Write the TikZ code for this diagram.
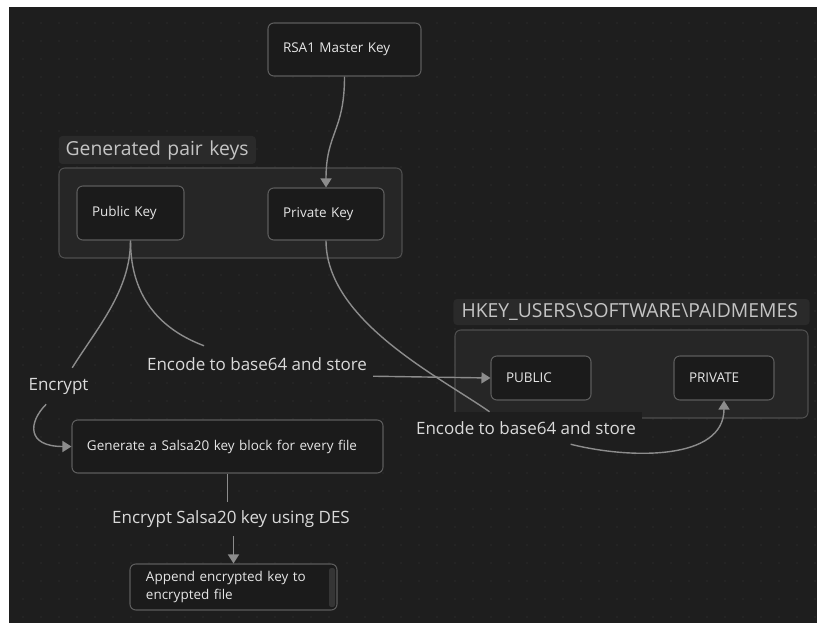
\documentclass[tikz,border=0pt]{standalone}
\usepackage{fontspec}
\setmainfont{Open Sans}
\usetikzlibrary{arrows.meta}
\definecolor{canvas}{HTML}{1E1E1E}
\definecolor{dotcol}{HTML}{2C2C2C}
\definecolor{grpfill}{HTML}{262626}
\definecolor{grpline}{HTML}{4E4E4E}
\definecolor{glabfill}{HTML}{2A2A2A}
\definecolor{glabtext}{HTML}{C4C4C4}
\definecolor{boxfill}{HTML}{1B1B1B}
\definecolor{boxline}{HTML}{5C5C5C}
\definecolor{boxtext}{HTML}{E6E6E6}
\definecolor{labtext}{HTML}{DADADA}
\definecolor{edgecol}{HTML}{8C8C8C}
\definecolor{barcol}{HTML}{353535}
\tikzset{
  wh/.style 2 args={minimum width=#1*0.03cm,minimum height=#2*0.03cm},
  grp/.style={draw=grpline,fill=grpfill,line width=0.9pt,rounded corners=5pt,inner sep=0pt},
  glabel/.style={fill=glabfill,rounded corners=3pt,text=glabtext,align=left,
    inner xsep=0.2cm,inner ysep=0pt,font=\fontsize{16.5}{20}\selectfont},
  keybox/.style={draw=boxline,fill=boxfill,line width=0.9pt,rounded corners=5pt,text=boxtext,
    align=left,inner xsep=0.45cm,inner ysep=0pt,font=\fontsize{11.5}{15}\selectfont},
  elabel/.style={fill=canvas,text=labtext,inner sep=0pt,font=\fontsize{14.5}{17}\selectfont},
  link/.style={draw=edgecol,line width=1.2pt},
  tip/.style={-{Triangle[length=0.27cm,width=0.33cm]}}
}
\begin{document}
\begin{tikzpicture}[x=0.03cm,y=-0.03cm]
\fill[white] (0,0) rectangle (817,623);
\useasboundingbox (0,0) rectangle (817,623);
\fill[canvas] (9,7) rectangle (817,623);
\foreach \i in {0,...,44}
  \foreach \j in {0,...,33}
    \fill[dotcol] (23+18*\i,23+18*\j) circle (0.9);

% groups
\node[grp,wh={343}{90}] (pairgrp) at (230.5,213) {};
\node[glabel,wh={197}{28},text width=5.5cm] (pairlab) at (157.3,150) {Generated pair keys};
\node[grp,wh={353}{88}] (reggrp) at (631.5,374) {};
\node[glabel,wh={353}{26},text width=10.2cm,inner xsep=0.24cm] (reglab) at (631.5,312) {HKEY\_USERS\textbackslash SOFTWARE\textbackslash PAIDMEMES};

% boxes
\node[keybox,wh={153}{53},text width=3.69cm] (rsa) at (344.5,49.5) {RSA1 Master Key};
\node[keybox,wh={107}{54},text width=2.31cm] (pub) at (130.5,213) {Public Key};
\node[keybox,wh={116}{52},text width=2.58cm] (priv) at (326,214) {Private Key};
\node[keybox,wh={100}{44},text width=2.1cm] (regpub) at (541,378) {PUBLIC};
\node[keybox,wh={100}{44},text width=2.1cm] (regpriv) at (724,378) {PRIVATE};
\node[keybox,wh={311}{53},text width=8.43cm] (gen) at (227.5,446.5) {Generate a Salsa20 key block for every file};
\node[keybox,wh={207}{46},text width=5.25cm,inner xsep=0.48cm] (app) at (233.5,587) {Append encrypted key to\\encrypted file};
\fill[barcol,rounded corners=2pt] (329,568) rectangle (335,607);

% edge labels
\node[elabel,wh={232}{36}] (enc1) at (257,364) {Encode to base64 and store};
\node[elabel,wh={232}{32}] (enc2) at (526,428) {Encode to base64 and store};
\node[elabel,wh={73}{36}] (crypt) at (58.5,386) {Encrypt};
\node[elabel,wh={252}{34}] (salsa) at (231,519) {Encrypt Salsa20 key using DES};

% connectors
\draw[link,tip] (rsa.south) .. controls +(0,55) and +(0,-55) .. (priv.north);
\draw[link] (pub.south) .. controls +(0,50) and +(25,-40) .. (crypt.53);
\draw[link,tip] (crypt.236) .. controls +(-18,18) and +(-45,0) .. (gen.west);
\draw[link] (pub.south) .. controls +(0,60) and +(-40,-15) .. (enc1.161);
\draw[link,tip] (enc1.354) -- (regpub.west);
\draw[link] (priv.south) .. controls +(0,80) and +(-50,-35) .. (enc2.156.6);
\draw[link,tip] (enc2.340.8) .. controls +(60,15) and +(0,60) .. (regpriv.south);
\draw[link] (gen.south) -- (gen.south |- salsa.north);
\draw[link,tip] (app.north |- salsa.south) -- (app.north);
\end{tikzpicture}
\end{document}
